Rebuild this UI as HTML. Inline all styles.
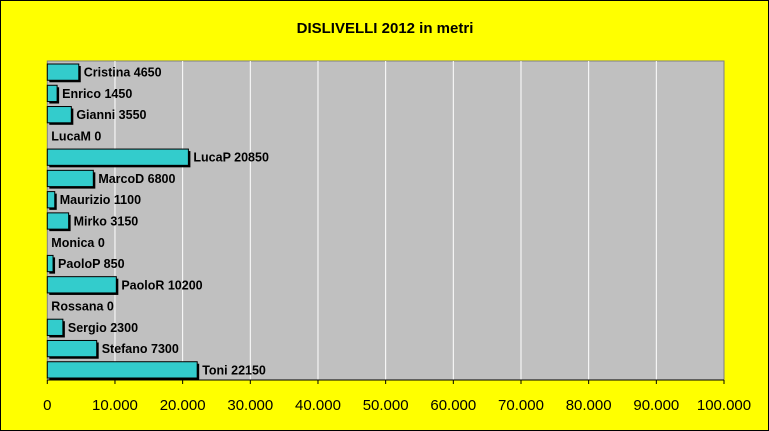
<!DOCTYPE html>
<html><head><meta charset="utf-8"><style>
body{margin:0;background:#ff0}
svg{display:block;font-family:"Liberation Sans",Arial,sans-serif}
</style></head><body>
<svg width="769" height="431">
<rect x="0.5" y="0.5" width="768" height="430" fill="#ffff00" stroke="#000"/>
<text x="385" y="33" text-anchor="middle" font-size="15" font-weight="bold">DISLIVELLI 2012 in metri</text>
<rect x="47.3" y="61" width="676.7" height="319" fill="#c0c0c0" stroke="#808080"/>
<g id="grid"></g><g id="bars"></g><g id="axis"></g>
</svg>
<script>
const names=["Cristina","Enrico","Gianni","LucaM","LucaP","MarcoD","Maurizio","Mirko","Monica","PaoloP","PaoloR","Rossana","Sergio","Stefano","Toni"];
const values=[4650,1450,3550,0,20850,6800,1100,3150,0,850,10200,0,2300,7300,22150];
const ticks=[0,10000,20000,30000,40000,50000,60000,70000,80000,90000,100000];
const tickLabels=["0","10.000","20.000","30.000","40.000","50.000","60.000","70.000","80.000","90.000","100.000"];
const NS="http://www.w3.org/2000/svg";
const L=47.3,R=724,T=61,B=380;
const x=v=>L+(v/100000)*(R-L);
const rowH=(B-T)/names.length;
const y=i=>T+i*rowH;
function mk(tag,a,p){const e=document.createElementNS(NS,tag);for(const k in a)e.setAttribute(k,a[k]);p.appendChild(e);return e;}
const grid=document.getElementById('grid'),bars=document.getElementById('bars'),axis=document.getElementById('axis');
ticks.forEach((t,i)=>{
 if(i>0&&i<ticks.length-1){const g=mk('line',{x1:x(t),x2:x(t),y1:T,y2:B,stroke:'#fff','stroke-width':1},grid);
 
 }
 const tk=mk('line',{x1:x(t),x2:x(t),y1:B,y2:B+4,stroke:'#000'},axis);
 
 
 const tl=mk('text',{x:x(t),y:B+30,'text-anchor':'middle','font-size':15},axis);
 tl.textContent=tickLabels[i];
 
 
});
const ax=mk('line',{x1:L,x2:R,y1:B,y2:B,stroke:'#000'},axis);


names.forEach((n,i)=>{
 const top=y(i)+3,h=rowH-5,w=x(values[i])-L;
 if(values[i]>0){
  const s=mk('rect',{x:L+2,y:top+2,width:w,height:h,fill:'#000'},bars);
  
  
  const b=mk('rect',{x:L,y:top,width:w,height:h,fill:'#33cccc',stroke:'#000','stroke-width':1},bars);
  
  
 }
 const t=mk('text',{x:x(values[i])+(values[i]>0?5:4),y:top+h/2+4.5,'font-size':12.5,'font-weight':'bold'},bars);
 t.textContent=n+' '+values[i];
 
 
});
</script>
</body></html>
